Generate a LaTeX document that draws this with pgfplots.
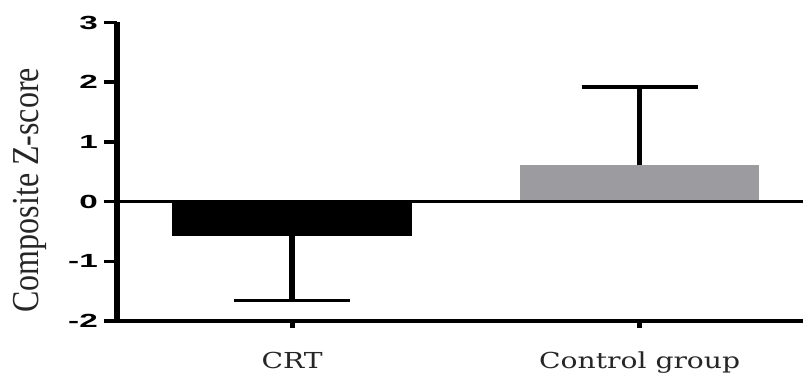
\documentclass[border=0pt]{standalone}
\usepackage{fontspec}
\setmainfont{DejaVu Serif}
\setsansfont{Liberation Sans}
\newfontfamily\labfont{Liberation Serif}
\newfontfamily\xfont{DejaVu Serif}
\usepackage{graphicx}
\usepackage{pgfplots}
\pgfplotsset{compat=1.18}
\definecolor{ctrlgray}{RGB}{156,155,160}
\newcommand\sx[1]{\scalebox{1.75}[1]{#1}}
\newcommand\xl[1]{\scalebox{1.28}[1]{#1}}
\begin{document}
\begin{tikzpicture}
\begin{axis}[
  scale only axis, width=686pt, height=298.5pt,
  xmin=-0.504, xmax=1.47, ymin=-2, ymax=3,
  axis lines=left,
  x axis line style={-, line width=3.5pt},
  y axis line style={-, line width=5.5pt},
  ytick={-2,-1,0,1,2,3},
  yticklabels={\sx{-2},\sx{-1},\sx{0},\sx{1},\sx{2},\sx{3}},
  yticklabel style={font=\sffamily\bfseries\fontsize{19}{19}\selectfont, inner sep=0pt, xshift=-6pt},
  xtick={0,1}, xticklabels={\xl{CRT},\xl{Control group}},
  xticklabel style={font=\xfont\fontsize{22}{22}\selectfont, color=black!85, inner sep=0pt, yshift=-18pt},
  tick align=outside,
  major tick length=13pt,
  xtick style={black, line width=5pt, /pgfplots/major tick length=7pt},
  ytick style={black, line width=3.5pt},
  ylabel={\scalebox{1}[1.19]{Composite Z-score}},
  ylabel style={font=\labfont\fontsize{32}{32}\selectfont, at={(axis description cs:-0.127,0.438)}, anchor=center, color=black!85},
  clip=false,
]
\addplot[ybar, bar width=0.689, bar shift=0pt, fill=black, draw=none,
  error bars/.cd, y dir=minus, y explicit,
  error bar style={line width=5.5pt, black},
  error mark options={rotate=90, line width=3.5pt, mark size=58pt, black}]
  coordinates {(0,-0.58) -= (0,1.08)};
\addplot[ybar, bar width=0.689, bar shift=0pt, fill=ctrlgray, draw=none,
  error bars/.cd, y dir=plus, y explicit,
  error bar style={line width=5.5pt, black},
  error mark options={rotate=90, line width=3.5pt, mark size=58pt, black}]
  coordinates {(1,0.62) += (0,1.30)};
\draw[line width=3.5pt] (axis cs:-0.504,0) -- (axis cs:1.47,0);
\end{axis}
\pgfresetboundingbox
\path[use as bounding box] (-117pt,-57pt) rectangle (686pt,321pt);
\end{tikzpicture}
\end{document}
